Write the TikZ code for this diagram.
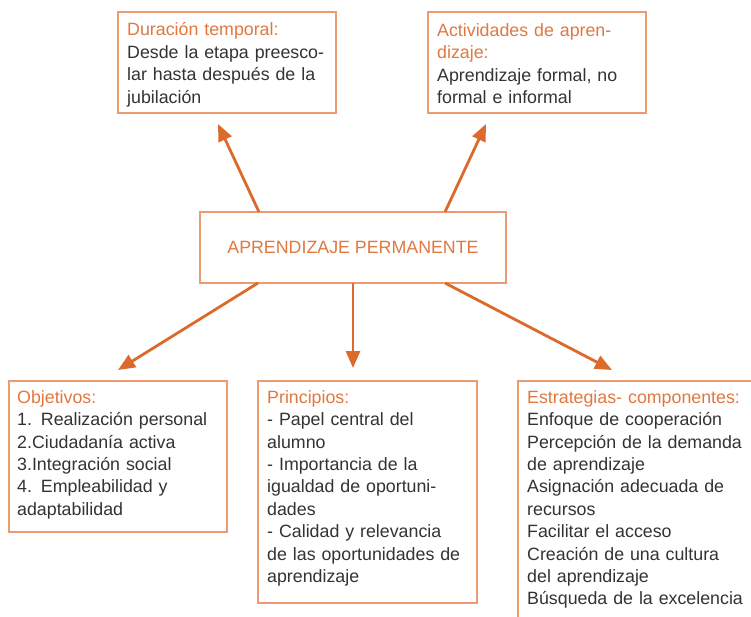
\documentclass[tikz,border=0pt]{standalone}
\usepackage{fontspec}
\setmainfont{Liberation Sans}
\usepackage{xcolor}
\usetikzlibrary{positioning, arrows.meta, calc}

\definecolor{boxline}{HTML}{EC9A70}
\definecolor{arrowc}{HTML}{DC6A2C}
\definecolor{ttlc}{HTML}{E07840}
\definecolor{bodyc}{HTML}{333333}
\newcommand{\ttl}[1]{\textcolor{ttlc}{#1}}
\newcommand{\fst}{\rule{0pt}{14pt}}

\begin{document}
\begin{tikzpicture}[x=1pt, y=-1pt,
    box/.style={draw=boxline, line width=1.4pt, anchor=north west, inner sep=0pt, outer sep=0pt},
    txt/.style={anchor=north west, inner sep=0pt, align=left, text=bodyc,
        font=\fontsize{17.8}{22.4}\selectfont},
    arr/.style={draw=arrowc, line width=2.8pt, -{Triangle[length=17pt, width=14pt]}}]
    \clip (0,0) rectangle (751,616);
    \fill[white] (0,0) rectangle (751,616);

    % top boxes
    \node[box, minimum width=218pt, minimum height=101pt] (dur) at (118,12) {};
    \node[txt, text width=205pt] (durtxt) at (127,21.7)
        {\fst\ttl{Duración temporal:}\\Desde la etapa preesco-\\lar hasta después de la\\jubilación};
    \node[box, minimum width=218pt, minimum height=101pt] (act) at (428,12) {};
    \node[txt, text width=205pt] (acttxt) at (437,22)
        {\fst\ttl{Actividades de apren-}\\\ttl{dizaje:}\\Aprendizaje formal, no\\formal e informal};

    % centre
    \node[box, anchor=center, minimum width=306pt, minimum height=71pt, text=ttlc,
        font=\fontsize{17.8}{22.4}\selectfont] (cen) at (353,247.5) {APRENDIZAJE PERMANENTE};

    % bottom boxes
    \node[box, minimum width=218pt, minimum height=151pt] (obj) at (9,381) {};
    \node[txt, text width=205pt] (objtxt) at (17,389)
        {\fst\ttl{Objetivos:}\\1. Realización personal\\2.Ciudadanía activa\\3.Integración social\\4. Empleabilidad y\\adaptabilidad};
    \node[box, minimum width=219pt, minimum height=222pt] (pri) at (258,381) {};
    \node[txt, text width=205pt] (pritxt) at (267,389)
        {\fst\ttl{Principios:}\\- Papel central del\\alumno\\- Importancia de la\\igualdad de oportuni-\\dades\\- Calidad y relevancia\\de las oportunidades de\\aprendizaje};
    \node[box, minimum width=250pt, minimum height=250pt] (est) at (518,381) {};
    \node[txt, text width=230pt] (esttxt) at (527,389)
        {\fst\ttl{Estrategias- componentes:}\\Enfoque de cooperación\\Percepción de la demanda\\de aprendizaje\\Asignación adecuada de\\recursos\\Facilitar el acceso\\Creación de una cultura\\del aprendizaje\\Búsqueda de la excelencia};

    % arrows
    \draw[arr] ($(cen.north west)+(59,0)$) -- ($(dur.south west)+(100,11)$);
    \draw[arr] ($(cen.north west)+(245,0)$) -- ($(act.south west)+(58,11)$);
    \draw[arr] ($(cen.south west)+(58,0)$) -- ($(obj.north west)+(109,-11)$);
    \draw[arr] (cen.south) -- ($(pri.north west)+(95,-13)$);
    \draw[arr] ($(cen.south west)+(245,0)$) -- ($(est.north west)+(94,-11)$);
\end{tikzpicture}
\end{document}
